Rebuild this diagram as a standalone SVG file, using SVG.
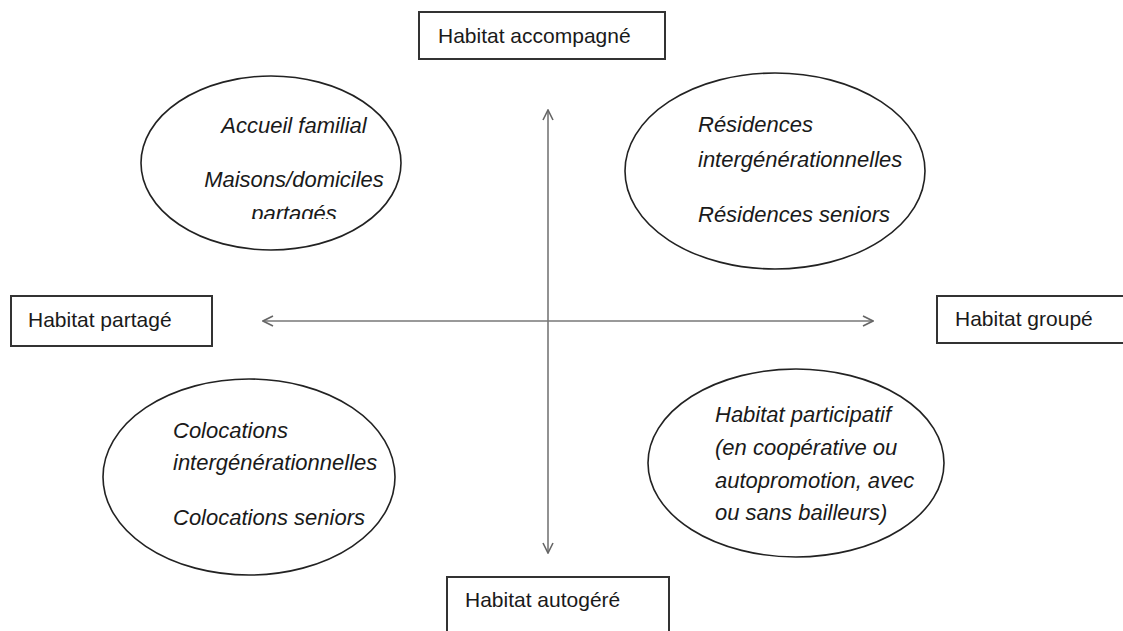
<svg xmlns="http://www.w3.org/2000/svg" width="1123" height="631" viewBox="0 0 1123 631">
<style>
.box{fill:#fff;stroke:#333;stroke-width:2}
.ell{fill:#fff;stroke:#222;stroke-width:1.6}
.lbl{font-family:"Liberation Sans",Arial,sans-serif;font-size:21px;fill:#1a1a1a}
.it{font-family:"Liberation Sans",Arial,sans-serif;font-size:22px;font-style:italic;fill:#1a1a1a}
.ax{stroke:#777;stroke-width:1.6;fill:none}
</style>
<defs>
<marker id="ah" viewBox="0 0 12 12" refX="11" refY="6" markerWidth="12" markerHeight="12" markerUnits="userSpaceOnUse" orient="auto-start-reverse">
<path d="M1,1 L11,6 L1,11" fill="none" stroke="#666" stroke-width="1.6"/>
</marker>
<clipPath id="clipTL"><rect x="0" y="0" width="1123" height="219"/></clipPath>
</defs>
<rect width="1123" height="631" fill="#fff"/>
<g id="connectors">
<line class="ax" x1="548" y1="110" x2="548" y2="553" marker-start="url(#ah)" marker-end="url(#ah)"/>
<line class="ax" x1="263" y1="321" x2="873" y2="321" marker-start="url(#ah)" marker-end="url(#ah)"/>
</g>
<g id="habitat-accompagne">
<rect class="box" x="419" y="12" width="246" height="47"/>
<text class="lbl" x="438" y="43">Habitat accompagné</text>
</g>
<g id="habitat-partage">
<rect class="box" x="11" y="296" width="201" height="50"/>
<text class="lbl" x="28" y="327">Habitat partagé</text>
</g>
<g id="habitat-groupe">
<rect class="box" x="937" y="296" width="190" height="47"/>
<text class="lbl" x="955" y="326">Habitat groupé</text>
</g>
<g id="habitat-autogere">
<rect class="box" x="447" y="577" width="222" height="60"/>
<text class="lbl" x="465" y="607">Habitat autogéré</text>
</g>
<g id="ellipse-tl">
<ellipse class="ell" cx="271" cy="163" rx="130" ry="87"/>
<text class="it" x="294" y="133" text-anchor="middle">Accueil familial</text>
<text class="it" x="294" y="187" text-anchor="middle">Maisons/domiciles</text>
<text class="it" x="294" y="221" text-anchor="middle" clip-path="url(#clipTL)">partagés</text>
</g>
<g id="ellipse-tr">
<ellipse class="ell" cx="775" cy="171" rx="150" ry="98"/>
<text class="it" x="698" y="132">Résidences</text>
<text class="it" x="698" y="167">intergénérationnelles</text>
<text class="it" x="698" y="222">Résidences seniors</text>
</g>
<g id="ellipse-bl">
<ellipse class="ell" cx="249" cy="477" rx="146" ry="98"/>
<text class="it" x="173" y="438">Colocations</text>
<text class="it" x="173" y="470">intergénérationnelles</text>
<text class="it" x="173" y="525">Colocations seniors</text>
</g>
<g id="ellipse-br">
<ellipse class="ell" cx="796" cy="463" rx="148" ry="94"/>
<text class="it" x="715" y="422">Habitat participatif</text>
<text class="it" x="715" y="455">(en coopérative ou</text>
<text class="it" x="715" y="488">autopromotion, avec</text>
<text class="it" x="715" y="520">ou sans bailleurs)</text>
</g>
</svg>
